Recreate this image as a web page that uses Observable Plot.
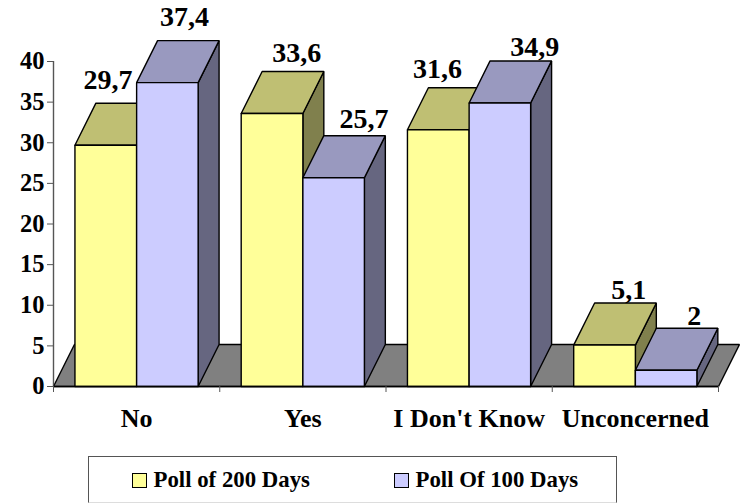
<!DOCTYPE html>
<html>
<head>
<meta charset="utf-8">
<script src="https://cdn.jsdelivr.net/npm/d3@7"></script>
<script src="https://cdn.jsdelivr.net/npm/@observablehq/plot@0.6"></script>
<style>
html,body{margin:0;padding:0;background:#fff;}
svg{display:block;overflow:visible;}
#legend{position:relative;box-sizing:border-box;margin-left:88px;width:529px;height:47px;border:1.5px solid #555;border-bottom-color:#ddd;
 font:bold 22.8px "Liberation Serif",serif;color:#000;}
#legend span{position:absolute;top:9px;white-space:nowrap;line-height:28px;}
#legend i{position:absolute;top:16px;width:13px;height:13px;border:1.2px solid #000;}
</style>
</head>
<body>
<div id="chart"></div>
<div id="legend"></div>
<script>
const categories = ["No", "Yes", "I Don't Know", "Unconcerned"];
const poll200 = [29.7, 33.6, 31.6, 5.1];
const poll100 = [37.4, 25.7, 34.9, 2];
const seriesNames = ["Poll of 200 Days", "Poll Of 100 Days"];
const yTicks = [0, 5, 10, 15, 20, 25, 30, 35, 40];

// Layout of the pseudo-3D drawing, in scale units
const depthX = 0.126, depthY = 5.17;
const barStart = 0.129, barMid = 0.5, barEnd = 0.87;
const labelNudgeX = [[-0.05, 0.04], [0.085, 0.12], [-0.068, 0.146], [0.082, 0.106]];
const labelNudgeY = [[1.5, 1.6], [0.9, 0.7], [0.9, 0.3], [0.3, 0.2]];

const palette = [
  {front: "#FFFF99", top: "#BFBF73", side: "#80804D"},
  {front: "#CCCCFF", top: "#9999BF", side: "#666680"}
];
const serif = "Liberation Serif";

const poly = (pts, fill) => Plot.line([...pts, pts[0]], {
  x: d => d[0], y: d => d[1], fill, stroke: "#000", strokeWidth: 1.4, strokeLinejoin: "miter"
});

function box(x0, x1, v, c) {
  return [
    poly([[x1, 0], [x1 + depthX, depthY], [x1 + depthX, v + depthY], [x1, v]], c.side),
    poly([[x0, v], [x0 + depthX, v + depthY], [x1 + depthX, v + depthY], [x1, v]], c.top),
    poly([[x0, 0], [x0, v], [x1, v], [x1, 0]], c.front)
  ];
}

const bars = categories.flatMap((_, i) => [
  ...box(i + barStart, i + barMid, poll200[i], palette[0]),
  ...box(i + barMid, i + barEnd, poll100[i], palette[1])
]);

const labels = categories.flatMap((_, i) => [
  {s: 0, v: poll200[i], x: i + (barStart + barMid) / 2 + depthX / 2 + labelNudgeX[i][0], y: poll200[i] + depthY + labelNudgeY[i][0]},
  {s: 1, v: poll100[i], x: i + (barMid + barEnd) / 2 + depthX / 2 + labelNudgeX[i][1], y: poll100[i] + depthY + labelNudgeY[i][1]}
]);

const chart = Plot.plot({
  width: 740, height: 456,
  marginLeft: 53, marginRight: 22, marginTop: 61, marginBottom: 70,
  x: {type: "linear", domain: [0, 4], range: [53, 718]},
  y: {domain: [0, 40], range: [386, 61]},
  marks: [
    poly([[0, 0], [depthX, depthY], [4 + depthX, depthY], [4, 0]], "#808080"),
    ...bars,
    Plot.ruleX([0], {y1: 0, y2: 40, stroke: "#555", strokeWidth: 1.4}),
    Plot.ruleY([0], {x1: 0, x2: 4, stroke: "#000", strokeWidth: 1.4}),
    Plot.axisY({ticks: yTicks, tickSize: 6, tickPadding: 3, stroke: "#555", label: null,
      fontFamily: serif, fontWeight: "bold", fontSize: 24.5, fill: "#000", tickFormat: d => String(d)}),
    Plot.axisX({ticks: [0, 1, 2, 3, 4], tickSize: 6, stroke: "#555", label: null, tickFormat: () => ""}),
    Plot.axisX({ticks: categories.map((_, i) => i + 0.5), tickSize: 0, tickPadding: 22, label: null,
      fontFamily: serif, fontWeight: "bold", fontSize: 26, fill: "#000", tickFormat: d => categories[Math.floor(d)]}),
    Plot.text(labels, {x: "x", y: "y", text: d => String(d.v).replace(".", ","),
      fontFamily: serif, fontWeight: "bold", fontSize: 28, fill: "#000", lineAnchor: "bottom", dy: -2})
  ]
});
document.getElementById("chart").append(chart);

const legend = document.getElementById("legend");
[[seriesNames[0], palette[0].front, 43, 64.5], [seriesNames[1], palette[1].front, 305, 326.5]].forEach(([name, col, sx, tx]) => {
  const sw = document.createElement("i");
  sw.style.left = sx + "px"; sw.style.background = col;
  const t = document.createElement("span");
  t.style.left = tx + "px"; t.textContent = name;
  legend.append(sw, t);
});
</script>
</body>
</html>
